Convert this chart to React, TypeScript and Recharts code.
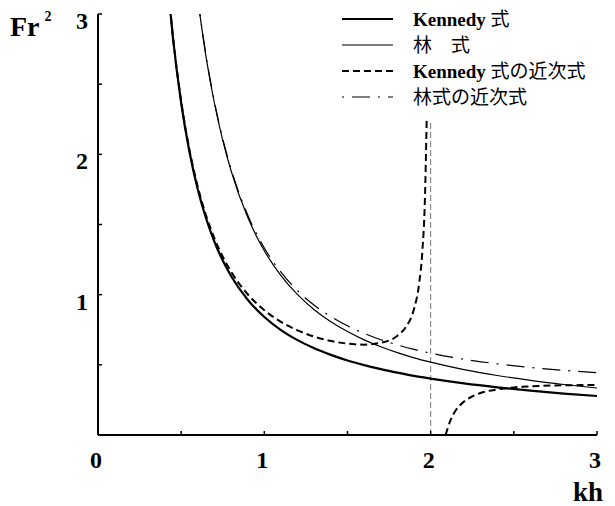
import React from "react";
import { LineChart, Line, XAxis, YAxis, ReferenceLine, Legend, Label } from "recharts";

// Kennedy 式
const kennedyKh = [0.42, 0.45, 0.5, 0.55, 0.6, 0.65, 0.7, 0.75, 0.8, 0.9, 1.0, 1.1, 1.2, 1.3, 1.4, 1.5, 1.6, 1.7, 1.8, 1.9, 2.0, 2.2, 2.4, 2.6, 2.8, 3.0];
const kennedyFr2 = [3.203, 2.836, 2.366, 2.017, 1.75, 1.543, 1.377, 1.243, 1.133, 0.964, 0.841, 0.748, 0.676, 0.618, 0.571, 0.531, 0.498, 0.469, 0.444, 0.421, 0.402, 0.368, 0.34, 0.316, 0.295, 0.278];

// 林 式
const hayashiKh = [0.6, 0.65, 0.7, 0.75, 0.8, 0.9, 1.0, 1.1, 1.2, 1.3, 1.4, 1.5, 1.6, 1.7, 1.8, 1.9, 2.0, 2.2, 2.4, 2.6, 2.8, 3.0];
const hayashiFr2 = [3.104, 2.691, 2.364, 2.1, 1.883, 1.551, 1.313, 1.136, 1.0, 0.893, 0.807, 0.737, 0.678, 0.629, 0.587, 0.55, 0.519, 0.466, 0.424, 0.389, 0.36, 0.335];

// Kennedy 式の近次式 (two branches, gap at the asymptote kh = 2)
const kennedyApproxKh = [0.42, 0.45, 0.5, 0.55, 0.6, 0.65, 0.7, 0.75, 0.8, 0.9, 1.0, 1.1, 1.2, 1.3, 1.4, 1.5, 1.6, 1.7, 1.8, 1.85, 1.9, 1.93, 1.95, 1.965, 1.976, 2.0, 2.09, 2.1, 2.12, 2.15, 2.2, 2.25, 2.3, 2.4, 2.5, 2.6, 2.8, 3.0];
const kennedyApproxFr2 = [3.211, 2.846, 2.378, 2.031, 1.768, 1.563, 1.401, 1.271, 1.164, 1.003, 0.889, 0.806, 0.746, 0.701, 0.67, 0.651, 0.644, 0.657, 0.707, 0.768, 0.899, 1.073, 1.309, 1.663, 2.24, null, 0.0, 0.04, 0.108, 0.174, 0.238, 0.275, 0.299, 0.325, 0.339, 0.347, 0.354, 0.356];

// 林式の近次式
const hayashiApproxKh = [0.6, 0.65, 0.7, 0.75, 0.8, 0.9, 1.0, 1.1, 1.2, 1.3, 1.4, 1.5, 1.6, 1.7, 1.8, 1.9, 2.0, 2.2, 2.4, 2.6, 2.8, 3.0];
const hayashiApproxFr2 = [3.111, 2.7, 2.374, 2.111, 1.896, 1.568, 1.333, 1.16, 1.028, 0.925, 0.844, 0.778, 0.724, 0.679, 0.642, 0.61, 0.583, 0.54, 0.507, 0.481, 0.461, 0.444];

const axisTicks = [0, 0.5, 1, 1.5, 2, 2.5, 3];
const asymptoteKh = 2;
const asymptoteTop = 2.24;

const toPoints = (kh: number[], fr2: (number | null)[]) =>
  kh.map((k, i) => ({ kh: k, fr2: fr2[i] }));

const serif = "'Liberation Serif', 'Times New Roman', serif";

const legendRows = [
  { label: <><tspan fontWeight="bold">Kennedy</tspan> 式</>, width: 2.2, dash: undefined, offset: 0 },
  { label: <>林　式</>, width: 1.2, dash: undefined, offset: 0 },
  { label: <><tspan fontWeight="bold">Kennedy</tspan> 式の近次式</>, width: 2, dash: "7 4", offset: 0 },
  { label: <>林式の近次式</>, width: 1.2, dash: "18 8 2 8", offset: 26 },
];

const ChartLegend = () => (
  <svg width={270} height={110}>
    {legendRows.map((r, i) => (
      <g key={i}>
        <line x1={4} x2={55} y1={19 + 26 * i} y2={19 + 26 * i} stroke="#000"
          strokeWidth={r.width} strokeDasharray={r.dash} strokeDashoffset={r.offset} />
        <text x={75} y={19 + 26 * i} dominantBaseline="central" fontSize={19}
          fontFamily="'Liberation Serif', 'Noto Sans CJK JP'" fill="#000">
          {r.label}
        </text>
      </g>
    ))}
  </svg>
);

const YTick = (props: any) => {
  const { x, y, payload } = props;
  const v = payload.value;
  return (
    <g>
      <line x1={x} x2={x + 4} y1={y} y2={y} stroke="#000" strokeWidth={1.5} />
      {Number.isInteger(v) && v > 0 && (
        <text x={x - 10} y={y + 15} textAnchor="end" fontFamily={serif} fontWeight="bold" fontSize={24} fill="#000">
          {v}
        </text>
      )}
    </g>
  );
};

const XTick = (props: any) => {
  const { x, y, payload } = props;
  const v = payload.value;
  return (
    <g>
      <line x1={x} x2={x} y1={y} y2={y - 4} stroke="#000" strokeWidth={1.5} />
      {Number.isInteger(v) && (
        <text x={x - 2} y={y + 33} textAnchor="middle" fontFamily={serif} fontWeight="bold" fontSize={24} fill="#000">
          {v}
        </text>
      )}
    </g>
  );
};

export default function App() {
  return (
    <div style={{ position: "absolute", left: 0, top: 0, width: 615, height: 506, background: "#fff" }}>
      <LineChart width={615} height={506} margin={{ top: 14, right: 18, bottom: 41, left: 58 }}>
        <XAxis
          type="number"
          dataKey="kh"
          domain={[0, 3]}
          ticks={axisTicks}
          allowDataOverflow
          height={30}
          tickSize={0}
          tickMargin={0}
          tickLine={false}
          axisLine={{ stroke: "#000", strokeWidth: 2 }}
          tick={<XTick />}
        >
          <Label
            content={() => (
              <text x={603} y={501} textAnchor="end" fontFamily={serif} fontWeight="bold" fontSize={27} fill="#000">kh</text>
            )}
          />
        </XAxis>
        <YAxis
          type="number"
          domain={[0, 3]}
          ticks={axisTicks}
          allowDataOverflow
          width={40}
          tickSize={0}
          tickMargin={0}
          tickLine={false}
          axisLine={{ stroke: "#000", strokeWidth: 2 }}
          tick={<YTick />}
        >
          <Label
            content={() => (
              <text x={10} y={36} fontFamily={serif} fontWeight="bold" fontSize={28} fill="#000">
                Fr<tspan dx={5} dy={-15} fontSize={14}>2</tspan>
              </text>
            )}
          />
        </YAxis>
        <ReferenceLine
          segment={[{ x: asymptoteKh, y: 0 }, { x: asymptoteKh, y: asymptoteTop }]}
          stroke="#777"
          strokeWidth={1}
          strokeDasharray="6 3"
        />
        <Line data={toPoints(kennedyKh, kennedyFr2)} dataKey="fr2" type="monotone" stroke="#000"
          strokeWidth={2.2} dot={false} isAnimationActive={false} />
        <Line data={toPoints(hayashiKh, hayashiFr2)} dataKey="fr2" type="monotone" stroke="#000"
          strokeWidth={1.2} dot={false} isAnimationActive={false} />
        <Line data={toPoints(kennedyApproxKh, kennedyApproxFr2)} dataKey="fr2" type="monotone" stroke="#000"
          strokeWidth={2} strokeDasharray="7 4" dot={false} connectNulls={false} isAnimationActive={false} />
        <Line data={toPoints(hayashiApproxKh, hayashiApproxFr2)} dataKey="fr2" type="monotone" stroke="#000"
          strokeWidth={1.2} strokeDasharray="18 8 2 8" dot={false} isAnimationActive={false} />
        <Legend
          layout="vertical"
          align="center"
          verticalAlign="middle"
          wrapperStyle={{ left: 338, top: 0, width: 270 }}
          content={() => <ChartLegend />}
        />
      </LineChart>
    </div>
  );
}
